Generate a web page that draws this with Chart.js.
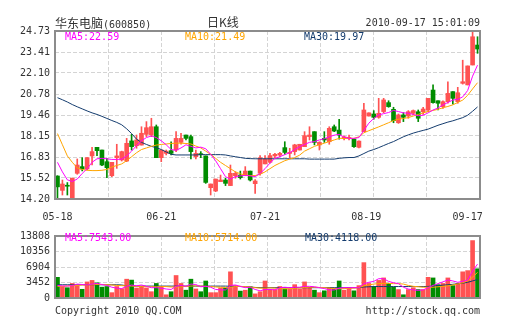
<!DOCTYPE html>
<html>
<head>
<meta charset="utf-8">
<script src="https://cdn.jsdelivr.net/npm/chart.js@4.4.0/dist/chart.umd.min.js"></script>
<style>
  body { margin: 0; background: #fff; width: 505px; height: 330px; position: relative; overflow: hidden;
         font-family: "DejaVu Sans Mono", monospace; font-size: 10px; color: #333; }
  canvas { position: absolute; left: 0; }
  .t { position: absolute; white-space: nowrap; line-height: 12px; z-index: 2; }
  .cjk { font-family: "Noto Sans CJK SC", sans-serif; font-size: 12px; }
</style>
</head>
<body>
<div class="t" style="left:55px;top:17px"><span class="cjk">华东电脑</span>(600850)</div>
<div class="t cjk" style="left:207px;top:16px">日K线</div>
<div class="t" style="right:25px;top:17px">2010-09-17 15:01:09</div>

<canvas id="k" width="505" height="225" style="top:0"></canvas>
<canvas id="v" width="505" height="105" style="top:225px"></canvas>

<div class="t" id="kma5" style="left:65px;top:31px;color:#f0f"></div>
<div class="t" id="kma10" style="left:185px;top:31px;color:#ffa500"></div>
<div class="t" id="kma30" style="left:304px;top:31px;color:#143c6e"></div>
<div class="t" id="vma5" style="left:65px;top:232px;color:#f0f"></div>
<div class="t" id="vma10" style="left:185px;top:232px;color:#ffa500"></div>
<div class="t" id="vma30" style="left:305px;top:232px;color:#143c6e"></div>

<div class="t" style="left:55px;top:305px">Copyright 2010 QQ.COM</div>
<div class="t" style="right:25px;top:305px">http://stock.qq.com</div>

<script>
// daily candles, 2010-05-18 .. 2010-09-17
const open = [
  15.64, 14.74, 15.05, 14.25, 15.81, 16.23, 16.08, 16.90, 17.44, 17.27,
  16.54, 15.66, 16.79, 16.65, 16.58, 17.84, 17.54, 17.58, 18.25, 18.21,
  18.73, 16.79, 17.06, 17.23, 17.27, 17.75, 18.21, 18.11, 16.85, 17.00,
  16.90, 14.91, 14.70, 15.29, 15.39, 15.04, 15.66, 15.70, 15.66, 15.95,
  15.16, 15.81, 16.40, 16.50, 16.90, 16.95, 17.42, 17.06, 17.17, 17.27,
  17.48, 18.11, 18.42, 17.59, 18.00, 17.79, 18.73, 18.52, 18.00, 18.00,
  17.96, 17.44, 18.42, 19.40, 19.53, 19.32, 19.68, 20.24, 19.82, 18.98,
  19.47, 19.40, 19.57, 19.67, 19.67, 19.78, 21.03, 20.36, 19.99, 20.30,
  20.93, 20.30, 21.45, 21.35, 22.60, 23.85
];
const high = [
  15.66, 15.39, 15.23, 15.52, 16.71, 16.79, 16.79, 17.44, 17.44, 17.27,
  16.75, 16.50, 17.63, 17.20, 18.00, 18.25, 18.21, 18.73, 19.05, 19.26,
  18.84, 17.27, 17.27, 17.79, 18.42, 18.32, 18.21, 18.21, 17.27, 17.17,
  16.90, 15.14, 15.45, 15.70, 15.50, 16.33, 15.91, 15.95, 16.23, 15.95,
  15.41, 16.92, 16.92, 17.06, 17.06, 17.12, 17.79, 17.38, 17.63, 17.63,
  18.42, 18.73, 18.42, 17.79, 18.42, 18.73, 18.84, 19.20, 18.15, 18.20,
  17.98, 17.85, 20.20, 19.60, 19.74, 20.51, 20.51, 20.36, 19.95, 19.53,
  19.61, 19.74, 19.78, 19.78, 19.95, 20.51, 21.35, 20.36, 20.36, 21.55,
  20.93, 21.20, 22.90, 22.54, 24.73, 24.37
];
const low = [
  14.26, 14.45, 14.45, 14.20, 15.75, 15.96, 16.02, 16.33, 16.92, 16.29,
  15.54, 15.60, 16.12, 16.58, 16.54, 17.27, 17.38, 17.58, 18.11, 18.11,
  16.79, 16.54, 16.96, 16.96, 17.17, 17.63, 17.90, 16.71, 16.71, 16.79,
  15.18, 14.45, 14.66, 15.29, 15.04, 15.04, 15.50, 15.45, 15.66, 15.33,
  14.55, 15.70, 16.40, 16.44, 16.79, 16.85, 17.00, 16.79, 16.96, 17.27,
  17.48, 17.90, 17.59, 17.27, 17.75, 17.63, 18.42, 17.95, 17.90, 17.90,
  17.44, 17.40, 18.42, 19.40, 19.20, 19.26, 19.61, 19.95, 18.98, 18.94,
  19.05, 19.26, 19.47, 19.05, 19.50, 19.67, 20.20, 19.78, 19.88, 20.20,
  20.15, 20.20, 21.40, 21.35, 22.60, 23.33
];
const close = [
  14.96, 15.14, 15.00, 15.50, 16.33, 16.08, 16.79, 17.17, 17.23, 16.33,
  16.16, 16.50, 16.90, 17.17, 17.69, 17.48, 17.90, 18.32, 18.67, 18.73,
  16.79, 17.27, 17.20, 17.06, 18.00, 18.00, 18.00, 17.17, 17.06, 16.98,
  15.24, 15.14, 15.45, 15.39, 15.18, 15.81, 15.81, 15.54, 15.95, 15.39,
  15.33, 16.79, 16.71, 16.92, 17.00, 17.06, 17.12, 17.12, 17.59, 17.63,
  18.17, 18.21, 17.75, 17.75, 17.90, 18.63, 18.46, 18.21, 18.10, 18.06,
  17.48, 17.83, 19.78, 19.60, 19.32, 19.57, 20.41, 19.99, 19.11, 19.47,
  19.32, 19.67, 19.74, 19.26, 19.84, 20.51, 20.24, 20.20, 20.30, 20.82,
  20.51, 20.86, 21.55, 22.54, 24.37, 23.60
];

// price moving averages
const ma5 = [
  16.50, 15.90, 15.40, 15.30, 15.45, 15.80, 16.10, 16.50, 16.72, 16.75,
  16.72, 16.68, 16.68, 16.70, 16.90, 17.20, 17.55, 17.85, 18.05, 18.15,
  18.05, 17.85, 17.60, 17.30, 17.25, 17.40, 17.60, 17.50, 17.40, 17.45,
  17.35, 17.00, 16.60, 16.10, 15.60, 15.45, 15.60, 15.65, 15.68, 15.65,
  15.60, 15.80, 16.10, 16.45, 16.75, 16.85, 16.98, 17.10, 17.30, 17.48,
  17.62, 17.75, 17.80, 17.90, 17.98, 18.10, 18.20, 18.25, 18.08, 18.00,
  18.00, 18.05, 18.50, 18.95, 19.25, 19.47, 19.55, 19.62, 19.75, 19.68,
  19.60, 19.58, 19.50, 19.42, 19.45, 19.60, 19.78, 19.90, 20.10, 20.25,
  20.40, 20.45, 20.60, 21.00, 21.90, 22.59
];
const ma10 = [
  18.30, 17.60, 16.90, 16.50, 16.15, 16.05, 16.00, 15.98, 15.98, 16.00,
  16.05, 16.20, 16.30, 16.40, 16.60, 16.85, 17.10, 17.30, 17.40, 17.50,
  17.58, 17.62, 17.65, 17.68, 17.70, 17.70, 17.68, 17.65, 17.52, 17.40,
  17.20, 17.00, 16.75, 16.50, 16.30, 16.10, 15.90, 15.78, 15.70, 15.67,
  15.67, 15.75, 15.90, 16.10, 16.30, 16.45, 16.60, 16.70, 16.80, 16.95,
  17.20, 17.35, 17.50, 17.60, 17.70, 17.80, 17.90, 18.00, 18.00, 18.00,
  18.00, 18.10, 18.35, 18.48, 18.60, 18.72, 18.85, 18.98, 19.12, 19.20,
  19.25, 19.30, 19.40, 19.50, 19.60, 19.68, 19.75, 19.82, 19.92, 20.00,
  20.10, 20.25, 20.40, 20.70, 21.10, 21.49
];
const ma30 = [
  20.55, 20.42, 20.28, 20.12, 19.98, 19.85, 19.72, 19.60, 19.50, 19.38,
  19.25, 19.12, 19.00, 18.85, 18.60, 18.30, 17.95, 17.75, 17.62, 17.50,
  17.42, 17.30, 17.15, 17.00, 16.96, 16.96, 16.96, 16.96, 16.96, 16.98,
  16.98, 16.98, 16.98, 16.98, 16.96, 16.90, 16.85, 16.80, 16.75, 16.73,
  16.72, 16.72, 16.72, 16.72, 16.72, 16.72, 16.72, 16.72, 16.72, 16.72,
  16.72, 16.70, 16.70, 16.70, 16.70, 16.70, 16.70, 16.75, 16.78, 16.80,
  16.80, 16.90, 17.05, 17.20, 17.30, 17.42, 17.55, 17.68, 17.80, 17.95,
  18.10, 18.22, 18.33, 18.42, 18.50, 18.58, 18.70, 18.82, 18.92, 19.02,
  19.10, 19.20, 19.30, 19.45, 19.70, 19.97
];

// volume and its moving averages
const volume = [
  4600, 2560, 2290, 3240, 2760, 1940, 3580, 3920, 3380, 2420,
  2560, 1190, 2560, 2080, 4190, 3990, 2220, 2560, 2220, 1400,
  3240, 2560,  720, 1400, 5010, 3240, 1740, 4190, 2010, 1400,
  3790, 1190, 1190, 2220, 2220, 5830, 2760, 1540, 1740, 2500,
   920, 1400, 3790, 1880, 1880, 2560, 2010, 2010, 2970, 2010,
  3580, 2420, 1740, 1190, 1600, 2290, 2080, 3790, 1740, 2290,
  1600, 2760, 7880, 3240, 2560, 3920, 4470, 3240, 2420, 1880,
   720, 1880, 2290, 1880, 1880, 4600, 4470, 2970, 3240, 4470,
  2760, 3240, 5830, 6100, 12790, 6510
];
const vma5 = [
  2800, 2700, 2650, 2750, 3100, 3000, 2900, 3100, 3250, 3000,
  2800, 2400, 2200, 2100, 2600, 2900, 2700, 2900, 2600, 2300,
  2300, 2200, 2000, 1900, 2600, 2800, 2600, 3100, 3000, 2500,
  2600, 2400, 1900, 1800, 1800, 2800, 2900, 2600, 2300, 2400,
  1900, 1600, 1900, 1900, 1800, 2300, 2400, 2300, 2400, 2400,
  2600, 2600, 2500, 2300, 2100, 1800, 1800, 2200, 2300, 2300,
  2300, 2300, 3200, 3500, 3700, 4300, 4300, 3700, 3400, 3200,
  2400, 2000, 1800, 1700, 1800, 2300, 2800, 3200, 3600, 4000,
  3800, 3500, 3700, 4000, 6000, 7543
];
const vma10 = [
  2600, 2600, 2700, 2800, 2800, 2900, 2900, 2950, 3000, 3000,
  2950, 2900, 2800, 2750, 2700, 2650, 2600, 2550, 2500, 2500,
  2500, 2550, 2550, 2450, 2450, 2500, 2600, 2650, 2700, 2650,
  2600, 2550, 2450, 2400, 2350, 2400, 2550, 2600, 2500, 2450,
  2300, 2200, 2200, 2250, 2200, 2100, 2050, 2050, 2150, 2250,
  2350, 2400, 2400, 2350, 2300, 2200, 2100, 2050, 2100, 2150,
  2200, 2300, 2700, 2900, 3100, 3200, 3250, 3250, 3200, 3200,
  3100, 2800, 2600, 2500, 2400, 2400, 2400, 2500, 2600, 2700,
  2900, 3100, 3400, 3800, 4600, 5714
];
const vma30 = [
  2950, 2950, 2950, 2950, 2950, 2950, 2950, 2950, 2950, 2950,
  2950, 2950, 2950, 2900, 2700, 2650, 2650, 2650, 2650, 2650,
  2650, 2650, 2650, 2650, 2650, 2650, 2650, 2650, 2650, 2650,
  2650, 2650, 2650, 2650, 2650, 2600, 2600, 2550, 2500, 2450,
  2350, 2300, 2300, 2300, 2300, 2300, 2300, 2300, 2300, 2300,
  2300, 2300, 2300, 2300, 2300, 2300, 2300, 2300, 2300, 2300,
  2300, 2300, 2450, 2500, 2550, 2550, 2550, 2550, 2550, 2550,
  2550, 2550, 2550, 2550, 2550, 2580, 2650, 2750, 2850, 2950,
  3050, 3150, 3300, 3500, 3800, 4118
];

// axis labels
const dateTickAt = [0, 21, 42, 62.5, 83];
const dateTickText = ['05-18', '06-21', '07-21', '08-19', '09-17'];
const priceTicks = [14.20, 15.52, 16.83, 18.15, 19.46, 20.78, 22.10, 23.41, 24.73];
const volumeTicks = [0, 3452, 6904, 10356, 13808];

const UP = '#ff5252', DOWN = '#008c00';
const C5 = '#ff00ff', C10 = '#ffa500', C30 = '#143c6e';
const GRID = '#d4d4d4';
const TEXT = '#333';
const FONT = { family: 'DejaVu Sans Mono', size: 10 };

const candleColor = open.map((o, i) => close[i] >= o ? UP : DOWN);
const xy = arr => arr.map((v, i) => ({ x: i, y: v }));

// grey box round each plot area
const frame = {
  id: 'frame',
  afterDraw(chart) {
    const { ctx, chartArea: a } = chart;
    ctx.save();
    ctx.strokeStyle = '#8c8c8c';
    ctx.lineWidth = 2;
    ctx.strokeRect(a.left, a.top, a.right - a.left, a.bottom - a.top);
    ctx.restore();
  }
};

const maLine = (data, color) => ({
  type: 'line', data: xy(data), borderColor: color, borderWidth: 1,
  pointRadius: 0, tension: 0, order: 0
});

// vertical dashed grid, 8 equal columns
const columnGrid = {
  type: 'linear', position: 'bottom', min: 0, max: 8, offset: false,
  ticks: { display: false, stepSize: 1 },
  grid: { color: GRID, drawTicks: false, offset: false },
  border: { display: false, dash: [4, 2] },
  afterFit: s => { s.height = 0; }
};

const valueAxis = (min, max, ticks, fmt) => ({
  min, max,
  afterBuildTicks: s => { s.ticks = ticks.map(v => ({ value: v })); },
  ticks: { callback: fmt, font: FONT, color: TEXT, padding: 5 },
  grid: { color: GRID, drawTicks: false },
  border: { display: false, dash: [4, 2] },
  afterFit: s => { s.width = 55; }
});

const common = {
  responsive: false,
  animation: false,
  events: [],
  plugins: { legend: { display: false }, tooltip: { enabled: false } }
};

new Chart(document.getElementById('k'), {
  type: 'bar',
  data: {
    datasets: [
      maLine(ma5, C5),
      maLine(ma10, C10),
      maLine(ma30, C30),
      {
        data: open.map((o, i) => ({ x: i, y: [o, close[i]] })),
        backgroundColor: candleColor, barThickness: 4, minBarLength: 1,
        grouped: false, order: 1
      },
      {
        data: low.map((l, i) => ({ x: i, y: [l, high[i]] })),
        backgroundColor: candleColor, barThickness: 1,
        grouped: false, order: 2
      }
    ]
  },
  options: {
    ...common,
    layout: { padding: { top: 31, right: 25, left: 0, bottom: 0 } },
    scales: {
      x: {
        type: 'linear', min: -0.5, max: 85.5, offset: false,
        afterBuildTicks: s => { s.ticks = dateTickAt.map(v => ({ value: v })); },
        ticks: {
          callback: v => dateTickText[dateTickAt.indexOf(v)],
          font: FONT, color: TEXT, padding: 12, maxRotation: 0, autoSkip: false
        },
        grid: { display: false, drawTicks: false, offset: false },
        border: { display: false },
        afterFit: s => { s.height = 26; }
      },
      xg: columnGrid,
      y: valueAxis(14.20, 24.73, priceTicks, v => v.toFixed(2))
    }
  },
  plugins: [frame]
});

new Chart(document.getElementById('v'), {
  type: 'bar',
  data: {
    datasets: [
      maLine(vma5, C5),
      maLine(vma10, C10),
      maLine(vma30, C30),
      {
        data: xy(volume),
        backgroundColor: candleColor, barThickness: 4,
        grouped: false, order: 1
      }
    ]
  },
  options: {
    ...common,
    layout: { padding: { top: 6, right: 25, left: 0, bottom: 32 } },
    scales: {
      x: { type: 'linear', min: -0.5, max: 85.5, offset: false, display: false },
      xg: columnGrid,
      y: valueAxis(0, 13808, volumeTicks, v => String(v))
    }
  },
  plugins: [frame]
});

const last = a => a[a.length - 1].toFixed(2);
document.getElementById('kma5').textContent = 'MA5:' + last(ma5);
document.getElementById('kma10').textContent = 'MA10:' + last(ma10);
document.getElementById('kma30').textContent = 'MA30:' + last(ma30);
document.getElementById('vma5').textContent = 'MA5:' + last(vma5);
document.getElementById('vma10').textContent = 'MA10:' + last(vma10);
document.getElementById('vma30').textContent = 'MA30:' + last(vma30);
</script>
</body>
</html>
